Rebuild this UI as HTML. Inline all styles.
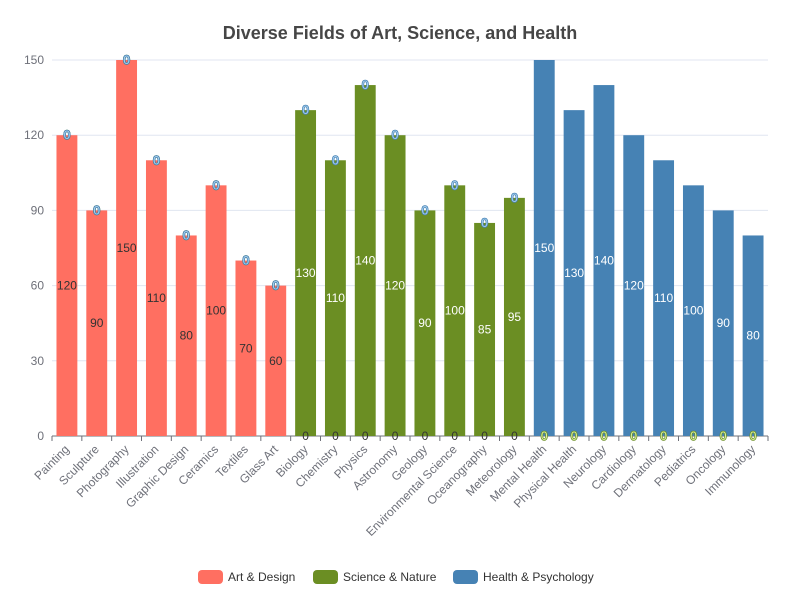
<!DOCTYPE html>
<html><head><meta charset="utf-8"><style>
body{margin:0;background:#fff}
svg text{font-family:"Liberation Sans",sans-serif}
</style></head><body>
<svg id="c" width="800" height="600" xmlns="http://www.w3.org/2000/svg">
<text x="400" y="39" text-anchor="middle" font-size="18" font-weight="bold" fill="#464646">Diverse Fields of Art, Science, and Health</text>
</svg>
<script>
const categories=["Painting","Sculpture","Photography","Illustration","Graphic Design","Ceramics","Textiles","Glass Art","Biology","Chemistry","Physics","Astronomy","Geology","Environmental Science","Oceanography","Meteorology","Mental Health","Physical Health","Neurology","Cardiology","Dermatology","Pediatrics","Oncology","Immunology"];
const artValues=[120,90,150,110,80,100,70,60,0,0,0,0,0,0,0,0,0,0,0,0,0,0,0,0];
const scienceValues=[0,0,0,0,0,0,0,0,130,110,140,120,90,100,85,95,0,0,0,0,0,0,0,0];
const healthValues=[0,0,0,0,0,0,0,0,0,0,0,0,0,0,0,0,150,130,140,120,110,100,90,80];
const yTicks=[0,30,60,90,120,150];
const seriesNames=["Art & Design","Science & Nature","Health & Psychology"];
const colors=["#ff6f61","#6b8e23","#4682b4"];
const labelColors=["#333","#fff","#fff"];
const NS="http://www.w3.org/2000/svg";
const svg=document.getElementById('c');
const X0=52,X1=768,Y0=436,Y1=60,YMAX=150;
const band=(X1-X0)/categories.length;
const xC=i=>X0+band*(i+0.5);
const y=v=>Y0-(v/YMAX)*(Y0-Y1);
function mk(t,a,p){const e=document.createElementNS(NS,t);for(const k in a)e.setAttribute(k,a[k]);(p||svg).appendChild(e);return e;}
yTicks.forEach(t=>{
  const l=mk('line',{x1:X0,x2:X1,y1:y(t),y2:y(t),stroke:t===0?'#6e7079':'#e0e6f1'});
  
  
  const tx=mk('text',{x:X0-8,y:y(t)+4,'text-anchor':'end','font-size':12,fill:'#6e7079'});
  tx.textContent=t;
  
  
});
for(let i=0;i<=categories.length;i++){
  const l=mk('line',{x1:X0+band*i,x2:X0+band*i,y1:Y0,y2:Y0+5,stroke:'#6e7079'});
  
  
}
const series=[artValues,scienceValues,healthValues];
const bw=band*0.7;
const labels=[];
categories.forEach((c,i)=>{
  let base=0;
  series.forEach((vals,s)=>{
    const v=vals[i];
    const top=y(base+v),bot=y(base);
    if(v>0){
      const r=mk('rect',{x:xC(i)-bw/2,y:top,width:bw,height:bot-top,fill:colors[s]});
      
      
      labels.push({x:xC(i),y:(top+bot)/2+4,t:v,fill:labelColors[s],stroke:null});
    }else{
      labels.push({x:xC(i),y:top+4,t:0,fill:s===0?'#333':colors[s],stroke:s===0?null:'#fff',fill2:s===0?null:(s===1?'#d8f0a0':'#a8d0f0'),s});
    }
    base+=v;
  });
});
labels.forEach(L=>{
  const t=mk('text',{x:L.x,y:L.y,'text-anchor':'middle','font-size':12,fill:L.fill2||L.fill});
  if(L.stroke){t.setAttribute('stroke',L.fill);t.setAttribute('stroke-width','1.5');t.setAttribute('paint-order','stroke');}
  t.textContent=L.t;
  
  
});
categories.forEach((c,i)=>{
  const t=mk('text',{x:xC(i)+3,y:Y0+14,'text-anchor':'end','font-size':12,fill:'#6e7079',transform:`rotate(-45 ${xC(i)+3} ${Y0+14})`});
  t.textContent=c;
  
  
});
const lx=[198,313,453];
seriesNames.forEach((n,s)=>{
  const g=mk('g',{});
  
  
  mk('rect',{x:lx[s],y:570,width:25,height:14,rx:4,fill:colors[s]},g);
  const t=mk('text',{x:lx[s]+30,y:581,'font-size':12,fill:'#333'},g);
  t.textContent=n;
});
</script>
</body></html>
